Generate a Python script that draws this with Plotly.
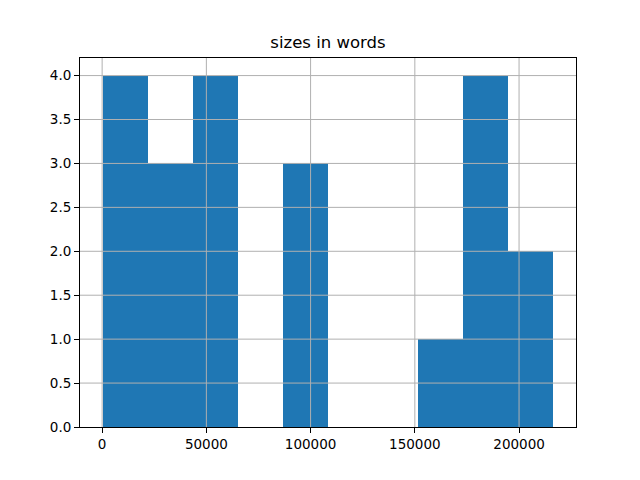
import numpy as np
import plotly.graph_objects as go

# Histogram data (10 bins)
bin_min = 200
bin_max = 216500
counts = [4, 3, 4, 0, 3, 0, 0, 1, 4, 2]
x_ticks = [0, 50000, 100000, 150000, 200000]
y_ticks = [0.0, 0.5, 1.0, 1.5, 2.0, 2.5, 3.0, 3.5, 4.0]
title = "sizes in words"

edges = np.linspace(bin_min, bin_max, len(counts) + 1)
centers = (edges[:-1] + edges[1:]) / 2
width = edges[1] - edges[0]

span = bin_max - bin_min
xr = [bin_min - 0.05 * span, bin_max + 0.05 * span]
yr = [0, max(counts) * 1.05]

fig = go.Figure(go.Bar(
    x=centers, y=counts, width=[width] * len(counts),
    marker=dict(color="#1f77b4", line=dict(width=0)),
))

# gridlines drawn above the bars, as in the reference
grid_style = dict(color="#b0b0b0", width=1)
for v in x_ticks:
    if xr[0] < v < xr[1]:
        fig.add_shape(type="line", xref="x", yref="paper", x0=v, x1=v, y0=0, y1=1,
                      line=grid_style, layer="above")
for v in y_ticks:
    if yr[0] < v < yr[1]:
        fig.add_shape(type="line", xref="paper", yref="y", x0=0, x1=1, y0=v, y1=v,
                      line=grid_style, layer="above")

axis_common = dict(
    showline=True, linecolor="black", linewidth=1, mirror=True,
    ticks="outside", ticklen=5, tickcolor="black", tickwidth=1,
    showgrid=False, zeroline=False, layer="above traces",
    tickfont=dict(family="DejaVu Sans", size=13.5, color="black"),
)

W, H = 632, 472
fig.update_layout(
    width=W, height=H,
    margin=dict(l=72, r=64, t=50, b=53),
    paper_bgcolor="white", plot_bgcolor="white",
    showlegend=False, bargap=0,
    title=dict(text=title, x=320 / W, xanchor="center",
               y=1 - 34 / H, yanchor="middle", yref="container",
               font=dict(family="DejaVu Sans", size=16.5, color="black")),
    xaxis=dict(range=xr, tickvals=x_ticks, ticktext=[str(v) for v in x_ticks], **axis_common),
    yaxis=dict(range=yr, tickvals=y_ticks, ticktext=[f"{v:.1f}" for v in y_ticks], **axis_common),
)

fig.write_html("out.html")
